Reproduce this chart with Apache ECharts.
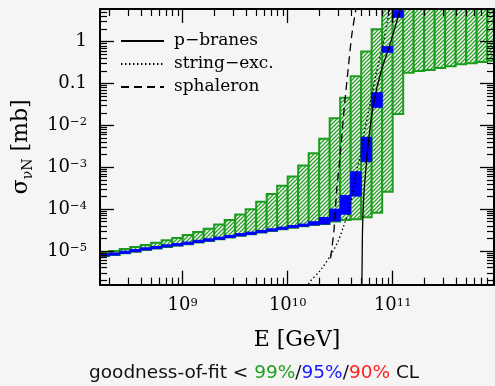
<!DOCTYPE html>
<html>
<head>
<meta charset="utf-8">
<script src="https://cdn.jsdelivr.net/npm/echarts@6/dist/echarts.min.js"></script>
<style>
  html, body { margin: 0; padding: 0; background: #f5f5f5; }
  #chart { width: 495px; height: 386px; }
</style>
</head>
<body>
<div id="chart"></div>
<script>
// Energy bins: log10(E / GeV) lower and upper edges
const binLowLog10E  = [8.2, 8.3, 8.4, 8.5, 8.6, 8.7, 8.8, 8.9, 9.0, 9.1, 9.2, 9.3, 9.4,
                       9.5, 9.6, 9.7, 9.8, 9.9, 10.0, 10.1, 10.2, 10.3, 10.4, 10.5, 10.6,
                       10.7, 10.8, 10.9, 11.0, 11.1, 11.2, 11.3, 11.4, 11.5, 11.6, 11.7, 11.8, 11.9];
const binHighLog10E = [8.3, 8.4, 8.5, 8.6, 8.7, 8.8, 8.9, 9.0, 9.1, 9.2, 9.3, 9.4, 9.5,
                       9.6, 9.7, 9.8, 9.9, 10.0, 10.1, 10.2, 10.3, 10.4, 10.5, 10.6, 10.7,
                       10.8, 10.9, 11.0, 11.1, 11.2, 11.3, 11.4, 11.5, 11.6, 11.7, 11.8, 11.9, 12.0];

// 99% CL band of sigma_nuN [mb] (null upper = open above the frame)
const cl99Low  = [7.6e-6, 8.0e-6, 8.8e-6, 9.6e-6, 1.06e-5, 1.14e-5, 1.25e-5, 1.34e-5, 1.45e-5,
                  1.6e-5, 1.73e-5, 1.9e-5, 2.1e-5, 2.3e-5, 2.5e-5, 2.75e-5, 3.0e-5, 3.3e-5,
                  3.6e-5, 3.9e-5, 4.2e-5, 4.4e-5, 5.1e-5, 5.5e-5, 5.75e-5, 6.4e-5, 8.2e-5,
                  2.6e-4, 0.0187, 0.18, 0.20, 0.21, 0.235, 0.26, 0.29, 0.305, 0.327, 0.35];
const cl99High = [9.3e-6, 1.0e-5, 1.12e-5, 1.25e-5, 1.4e-5, 1.58e-5, 1.8e-5, 2.04e-5, 2.4e-5,
                  2.84e-5, 3.4e-5, 4.3e-5, 5.5e-5, 7.4e-5, 1.0e-4, 1.5e-4, 2.3e-4, 3.6e-4,
                  6.0e-4, 1.1e-3, 2.15e-3, 4.8e-3, 0.0148, 0.046, 0.15, 0.58, 1.98,
                  null, null, null, null, null, null, null, null, null, null, null];

// 95% CL band of sigma_nuN [mb] (null = no allowed region)
const cl95Low  = [7.6e-6, 8.0e-6, 8.8e-6, 9.6e-6, 1.06e-5, 1.14e-5, 1.25e-5, 1.34e-5, 1.45e-5,
                  1.6e-5, 1.73e-5, 1.9e-5, 2.1e-5, 2.3e-5, 2.5e-5, 2.75e-5, 3.0e-5, 3.3e-5,
                  3.6e-5, 3.9e-5, 4.2e-5, 4.4e-5, 5.2e-5, 7.6e-5, 2.05e-4, 1.36e-3, 0.0271,
                  0.56, 3.83, null, null, null, null, null, null, null, null, null];
const cl95High = [8.5e-6, 9.0e-6, 9.9e-6, 1.08e-5, 1.19e-5, 1.28e-5, 1.4e-5, 1.5e-5, 1.63e-5,
                  1.8e-5, 1.95e-5, 2.14e-5, 2.36e-5, 2.6e-5, 2.82e-5, 3.1e-5, 3.38e-5, 3.72e-5,
                  4.05e-5, 4.4e-5, 5.0e-5, 6.3e-5, 1.0e-4, 2.1e-4, 7.8e-4, 5.2e-3, 0.0605,
                  0.76, 5.5, null, null, null, null, null, null, null, null, null];

// Model predictions: energy [GeV] and sigma_nuN [mb]
const pBranesE     = [5.08e10, 5.12e10, 5.16e10, 5.31e10, 5.55e10, 5.77e10, 6.14e10, 6.67e10,
                      7.73e10, 9.27e10, 1.18e11, 1.34e11];
const pBranesSigma = [1.17e-6, 6.1e-6, 3.18e-5, 2.18e-4, 8.6e-4, 2.59e-3, 0.0102, 0.0405,
                      0.189, 0.76, 5.71, 15.4];
const stringExcE     = [1.42e10, 1.59e10, 2.06e10, 2.57e10, 3.01e10, 3.44e10, 3.85e10, 4.30e10,
                        4.62e10, 4.98e10, 5.27e10, 5.93e10, 6.92e10, 8.07e10, 9.27e10, 9.84e10];
const stringExcSigma = [8.9e-7, 1.69e-6, 3.52e-6, 8.0e-6, 1.67e-5, 4.18e-5, 9.5e-5, 4.14e-4,
                        1.03e-3, 2.16e-3, 5.38e-3, 0.0233, 0.16, 0.834, 5.21, 9.9];
const sphaleronE     = [2.56e10, 2.76e10, 2.93e10, 3.16e10, 3.44e10, 3.76e10, 4.08e10, 4.46e10, 4.66e10];
const sphaleronSigma = [6.7e-6, 3.18e-5, 2.86e-4, 1.96e-3, 0.0232, 0.211, 1.45, 6.04, 13.1];

// Axis ticks (powers of ten)
const xTickExponents = [9, 10, 11];
const yTickExponents = [0, -1, -2, -3, -4, -5];
const yTickText = { '0': '1', '-1': '0.1' };

const legendNames = ['p\u2212branes', 'string\u2212exc.', 'sphaleron'];
const captionParts = [
  ['k', 'goodness-of-fit < '], ['g', '99%'], ['k', '/'], ['b', '95%'],
  ['k', '/'], ['r', '90%'], ['k', ' CL']
];

// Axis extents, in log10 units
const X_MIN = 8.2124, X_MAX = 11.965;
const Y_MIN = -5.805, Y_MAX = 0.781;

const L = Math.log10;
const SERIF = 'DejaVu Serif';

function minorTicks(lo, hi) {
  const out = [];
  for (let e = Math.floor(lo); e <= Math.ceil(hi); e++) {
    for (let k = 2; k <= 9; k++) {
      const v = e + L(k);
      if (v > lo && v < hi) out.push(v);
    }
  }
  return out;
}
const xMinor = minorTicks(X_MIN, X_MAX);
const yMinor = minorTicks(Y_MIN, Y_MAX);

// Diagonal hatch used to fill the 99% CL boxes
const hatch = document.createElement('canvas');
hatch.width = 4; hatch.height = 4;
(function () {
  const g = hatch.getContext('2d');
  g.fillStyle = '#fbfbfb';
  g.fillRect(0, 0, 4, 4);
  g.strokeStyle = '#28a028';
  g.lineWidth = 1.3;
  g.beginPath();
  g.moveTo(0, 4); g.lineTo(4, 0);
  g.moveTo(-1, 1); g.lineTo(1, -1);
  g.moveTo(3, 5); g.lineTo(5, 3);
  g.stroke();
})();

function bandData(lows, highs) {
  const out = [];
  binLowLog10E.forEach((x0, i) => {
    if (lows[i] == null) return;
    const hi = highs[i] == null ? Y_MAX + 0.5 : L(highs[i]);
    out.push([x0, binHighLog10E[i], L(lows[i]), hi]);
  });
  return out;
}

function boxRenderer(style) {
  return function (params, api) {
    const a = api.coord([api.value(0), api.value(3)]);
    const b = api.coord([api.value(1), api.value(2)]);
    const cs = params.coordSys;
    const shape = echarts.graphic.clipRectByRect(
      { x: a[0], y: a[1], width: b[0] - a[0], height: b[1] - a[1] },
      { x: cs.x, y: cs.y, width: cs.width, height: cs.height }
    );
    if (!shape) return;
    return { type: 'rect', shape: shape, style: style };
  };
}

function pairs(xs, ys) { return xs.map((x, i) => [L(x), L(ys[i])]); }

const supRich = {
  b: { fontFamily: SERIF, fontSize: 18, color: '#000', verticalAlign: 'top', lineHeight: 18 },
  s: { fontFamily: SERIF, fontSize: 11.5, color: '#000', verticalAlign: 'top', lineHeight: 12 }
};

function xAxisPair(position, withLabels) {
  const base = {
    type: 'value', min: X_MIN, max: X_MAX, position: position, z: 5,
    splitLine: { show: false }
  };
  return [
    Object.assign({}, base, {
      axisLine: { show: true, onZero: false, lineStyle: { color: '#000', width: 2 } },
      axisTick: { show: true, inside: true, length: 14, customValues: xTickExponents,
                  lineStyle: { color: '#000', width: 1.3 } },
      axisLabel: withLabels ? {
        show: true, customValues: xTickExponents, margin: 12,
        formatter: v => '{b|10}{s|' + Math.round(v) + '}', rich: supRich
      } : { show: false },
      name: withLabels ? 'E [GeV]' : '',
      nameLocation: 'middle', nameGap: 44, nameMoveOverlap: false,
      nameTextStyle: { fontFamily: SERIF, fontSize: 22, color: '#000', lineHeight: 24 }
    }),
    Object.assign({}, base, {
      axisLine: { show: false, onZero: false },
      axisTick: { show: true, inside: true, length: 7, customValues: xMinor,
                  lineStyle: { color: '#000', width: 1.2 } },
      axisLabel: { show: false }
    })
  ];
}

function yAxisPair(position, withLabels) {
  const base = {
    type: 'value', min: Y_MIN, max: Y_MAX, position: position, z: 5,
    splitLine: { show: false }
  };
  return [
    Object.assign({}, base, {
      axisLine: { show: true, onZero: false, lineStyle: { color: '#000', width: 2 } },
      axisTick: { show: true, inside: true, length: 14, customValues: yTickExponents,
                  lineStyle: { color: '#000', width: 1.3 } },
      axisLabel: withLabels ? {
        show: true, customValues: yTickExponents, margin: 13,
        formatter: v => {
          const n = Math.round(v);
          if (yTickText[n] !== undefined) return '{b|' + yTickText[n] + '}';
          return '{b|10}{s|\u2212' + (-n) + '}';
        },
        rich: supRich
      } : { show: false },
      name: withLabels ? '{m|\u03c3}{u|\u03bdN}{m| [mb]}' : '',
      nameLocation: 'middle', nameGap: 68, nameRotate: 90, nameMoveOverlap: false,
      nameTextStyle: {
        rich: {
          m: { fontFamily: SERIF, fontSize: 22, color: '#000', verticalAlign: 'top', lineHeight: 22 },
          u: { fontFamily: SERIF, fontSize: 14, color: '#000', verticalAlign: 'top', lineHeight: 14,
               padding: [11, 0, 0, 0] }
        }
      }
    }),
    Object.assign({}, base, {
      axisLine: { show: false, onZero: false },
      axisTick: { show: true, inside: true, length: 7, customValues: yMinor,
                  lineStyle: { color: '#000', width: 1.2 } },
      axisLabel: { show: false }
    })
  ];
}

const captionRich = {
  k: { color: '#111' }, g: { color: '#20a020' }, b: { color: '#1a1aff' }, r: { color: '#ff2020' }
};
Object.keys(captionRich).forEach(k => {
  captionRich[k].fontFamily = 'DejaVu Sans';
  captionRich[k].fontSize = 18.5;
  captionRich[k].fontWeight = 'normal';
});

const lineSeries = (name, xs, ys, width, dash) => ({
  type: 'line', name: name, xAxisIndex: 0, yAxisIndex: 0,
  data: pairs(xs, ys), symbol: 'none', showSymbol: false, smooth: 0.3,
  itemStyle: { color: '#000', opacity: 0 },
  lineStyle: { color: '#000', width: width, type: dash }
});

const chart = echarts.init(document.getElementById('chart'), null, { renderer: 'canvas' });
chart.setOption({
  backgroundColor: '#f5f5f5',
  animation: false,
  title: {
    text: captionParts.map(p => '{' + p[0] + '|' + p[1] + '}').join(''),
    left: 89, top: 364, padding: 0,
    textStyle: { fontWeight: 'normal', rich: captionRich }
  },
  grid: { left: 100, right: 1, top: 9, bottom: 101.3, outerBoundsMode: 'none' },
  xAxis: [].concat(xAxisPair('bottom', true), xAxisPair('top', false)),
  yAxis: [].concat(yAxisPair('left', true), yAxisPair('right', false)),
  legend: {
    orient: 'vertical', left: 120, top: 32, padding: 0,
    itemWidth: 43, itemHeight: 14, itemGap: 5, selectedMode: false,
    data: legendNames,
    itemStyle: { opacity: 0 },
    textStyle: { fontFamily: SERIF, fontSize: 17, color: '#000', lineHeight: 18,
                 padding: [0, 0, 0, 5] }
  },
  series: [
    {
      type: 'custom', name: '99% CL', xAxisIndex: 0, yAxisIndex: 0,
      encode: { x: [0, 1], y: [2, 3] },
      data: bandData(cl99Low, cl99High),
      renderItem: boxRenderer({ fill: { image: hatch, repeat: 'repeat' },
                                stroke: '#1c9c1c', lineWidth: 2 })
    },
    {
      type: 'custom', name: '95% CL', xAxisIndex: 0, yAxisIndex: 0,
      encode: { x: [0, 1], y: [2, 3] },
      data: bandData(cl95Low, cl95High),
      renderItem: boxRenderer({ fill: '#0000ff', stroke: '#0000ff', lineWidth: 1 })
    },
    lineSeries(legendNames[0], pBranesE, pBranesSigma, 1.3, 'solid'),
    lineSeries(legendNames[1], stringExcE, stringExcSigma, 1.4, [1.4, 2.6]),
    lineSeries(legendNames[2], sphaleronE, sphaleronSigma, 1.3, [8, 5])
  ]
});
</script>
</body>
</html>
